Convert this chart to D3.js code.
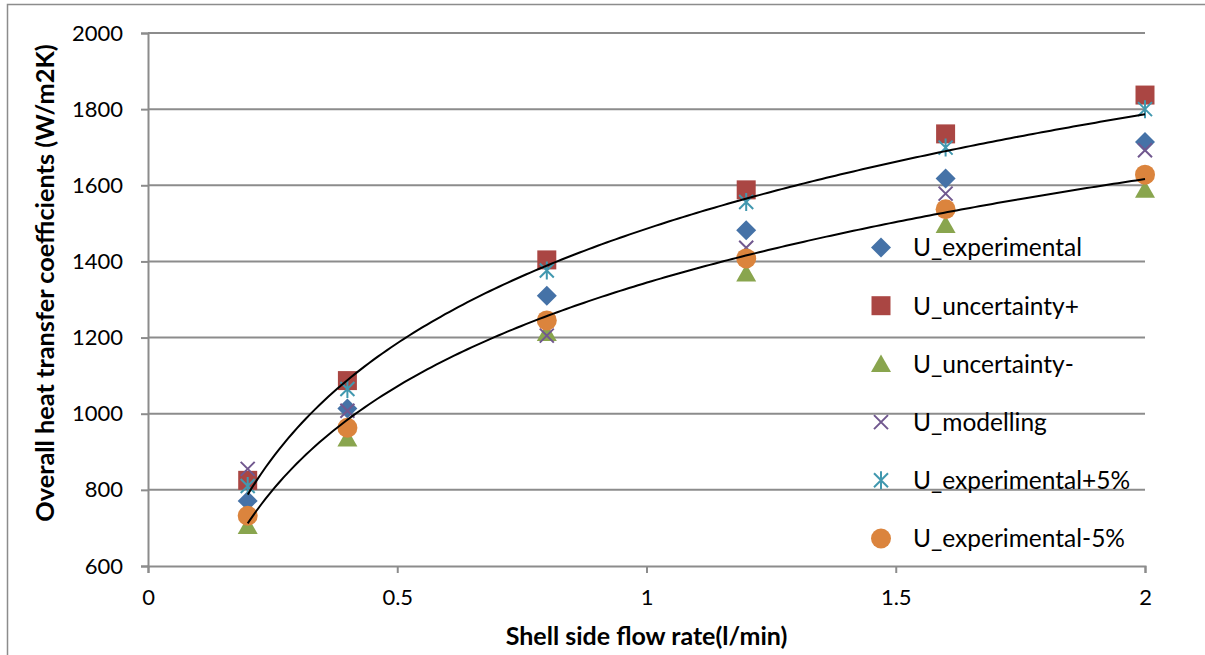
<!DOCTYPE html>
<html>
<head>
<meta charset="utf-8">
<script src="https://cdn.jsdelivr.net/npm/d3@7"></script>
<style>
  html, body { margin: 0; padding: 0; background: #fff; }
  svg { display: block; font-family: Lato, "Open Sans", sans-serif; }
</style>
</head>
<body>
<svg id="chart" width="1205" height="655"></svg>
<script>
// Shell side flow rate (l/min)
const flowRates = [0.2, 0.4, 0.8, 1.2, 1.6, 2.0];

// Overall heat transfer coefficient, W/m2K
const uExperimental   = [771, 1014, 1310, 1482, 1618, 1714];
const uUncertPlus     = [825, 1087, 1404, 1588, 1735, 1837];
const uUncertMinus    = [705, 935, 1212, 1368, 1496, 1588];
const uModelling      = [855, 1008, 1205, 1436, 1578, 1692];
const uExpPlus5       = [810, 1065, 1376, 1556, 1699, 1800];
const uExpMinus5      = [732, 963, 1245, 1408, 1537, 1628];

const seriesNames = ["U_experimental", "U_uncertainty+", "U_uncertainty-",
                     "U_modelling", "U_experimental+5%", "U_experimental-5%"];

const yTicks = [600, 800, 1000, 1200, 1400, 1600, 1800, 2000];
const xTicks = [0, 0.5, 1, 1.5, 2];
const xTickLabels = ["0", "0.5", "1", "1.5", "2"];

const series = [
  { name: seriesNames[0], values: uExperimental, shape: "diamond",  color: "#4572A7" },
  { name: seriesNames[1], values: uUncertPlus,   shape: "square",   color: "#AA4643" },
  { name: seriesNames[2], values: uUncertMinus,  shape: "triangle", color: "#89A54E" },
  { name: seriesNames[3], values: uModelling,    shape: "cross",    color: "#71588F" },
  { name: seriesNames[4], values: uExpPlus5,     shape: "star",     color: "#4198AF" },
  { name: seriesNames[5], values: uExpMinus5,    shape: "circle",   color: "#DB843D" }
];

const svg = d3.select("#chart");
const plot = { left: 148, right: 1145, top: 33, bottom: 566 };

const x = d3.scaleLinear().domain([0, 2]).range([plot.left, plot.right]);
const y = d3.scaleLinear().domain([600, 2000]).range([plot.bottom, plot.top]);

const grey = "#8c8c8c";

// chart area border (left and top edges)
svg.append("path")
  .attr("d", "M7.5,660 L7.5,4.5 L1210,4.5")
  .attr("fill", "none").attr("stroke", grey).attr("stroke-width", 1.5);

// horizontal gridlines
svg.append("g").selectAll("line")
  .data(yTicks.filter(v => v > 600))
  .join("line")
  .attr("x1", plot.left).attr("x2", plot.right)
  .attr("y1", d => y(d)).attr("y2", d => y(d))
  .attr("stroke", grey).attr("stroke-width", 2);

// axes
const yAxis = d3.axisLeft(y).tickValues(yTicks).tickSize(7).tickPadding(18)
  .tickFormat(d3.format("d"));
const gy = svg.append("g").attr("transform", `translate(${plot.left},0)`).call(yAxis);
const xAxis = d3.axisBottom(x).tickValues(xTicks).tickSize(7).tickPadding(16)
  .tickFormat((d, i) => xTickLabels[i]);
const gx = svg.append("g").attr("transform", `translate(0,${plot.bottom})`).call(xAxis);

[gy, gx].forEach(g => {
  g.select(".domain").attr("stroke", grey).attr("stroke-width", 2);
  g.selectAll(".tick line").attr("stroke", grey).attr("stroke-width", 2);
  g.selectAll(".tick text").attr("fill", "#000").style("font-size", "22px")
    .style("font-family", "Lato, 'Open Sans', sans-serif");
});

// marker shapes
function markerPath(shape) {
  switch (shape) {
    case "diamond":  return "M0,-10 L10,0 L0,10 L-10,0 Z";
    case "square":   return "M-9.5,-9.5 H9.5 V9.5 H-9.5 Z";
    case "triangle": return "M0,-9.5 L10,8 L-10,8 Z";
    case "cross":    return "M-7,-7 L7,7 M-7,7 L7,-7";
    case "star":     return "M-7,-7 L7,7 M-7,7 L7,-7 M0,-9 L0,9";
    default:         return null;
  }
}

function drawMarker(g, shape, color, cx, cy) {
  if (shape === "circle") {
    g.append("circle").attr("cx", cx).attr("cy", cy).attr("r", 10).attr("fill", color);
  } else if (shape === "cross" || shape === "star") {
    g.append("path").attr("d", markerPath(shape))
      .attr("transform", `translate(${cx},${cy})`)
      .attr("fill", "none").attr("stroke", color).attr("stroke-width", 2);
  } else {
    g.append("path").attr("d", markerPath(shape))
      .attr("transform", `translate(${cx},${cy})`)
      .attr("fill", color);
  }
}

// data points
const gPts = svg.append("g");
series.forEach(s => {
  const gs = gPts.append("g");
  s.values.forEach((v, i) => drawMarker(gs, s.shape, s.color, x(flowRates[i]), y(v)));
});

// logarithmic trendlines (least squares fit of y = a ln x + b)
function logFit(xs, ys) {
  const lx = xs.map(Math.log);
  const mx = d3.mean(lx), my = d3.mean(ys);
  const sxy = d3.sum(lx, (l, i) => (l - mx) * (ys[i] - my));
  const sxx = d3.sum(lx, l => (l - mx) * (l - mx));
  const a = sxy / sxx;
  return { a, b: my - a * mx };
}

const line = d3.line().x(d => x(d[0])).y(d => y(d[1])).curve(d3.curveLinear);
[uExpPlus5, uExpMinus5].forEach(vals => {
  const f = logFit(flowRates, vals);
  const pts = d3.range(0, 201).map(k => {
    const xv = 0.2 + (2.0 - 0.2) * k / 200;
    return [xv, f.a * Math.log(xv) + f.b];
  });
  svg.append("path").datum(pts).attr("d", line)
    .attr("fill", "none").attr("stroke", "#000").attr("stroke-width", 2);
});

// legend
const legend = svg.append("g");
const legendY0 = 247.5, legendStep = 58.2;
series.forEach((s, i) => {
  const ly = legendY0 + i * legendStep;
  drawMarker(legend, s.shape, s.color, 881, ly);
  legend.append("text").attr("x", 913).attr("y", ly).attr("dy", "0.36em")
    .style("font-size", "24.5px").attr("fill", "#000").text(s.name);
});

// axis titles
svg.append("text")
  .attr("x", (plot.left + plot.right) / 2).attr("y", 636).attr("dy", "0.35em")
  .attr("text-anchor", "middle").style("font-size", "25px").style("font-weight", "bold")
  .text("Shell side flow rate(l/min)");

svg.append("text")
  .attr("transform", "translate(45,283) rotate(-90)")
  .attr("dy", "0.35em")
  .attr("text-anchor", "middle").style("font-size", "25.3px").style("font-weight", "bold")
  .text("Overall heat transfer coefficients (W/m2K)");
</script>
</body>
</html>
